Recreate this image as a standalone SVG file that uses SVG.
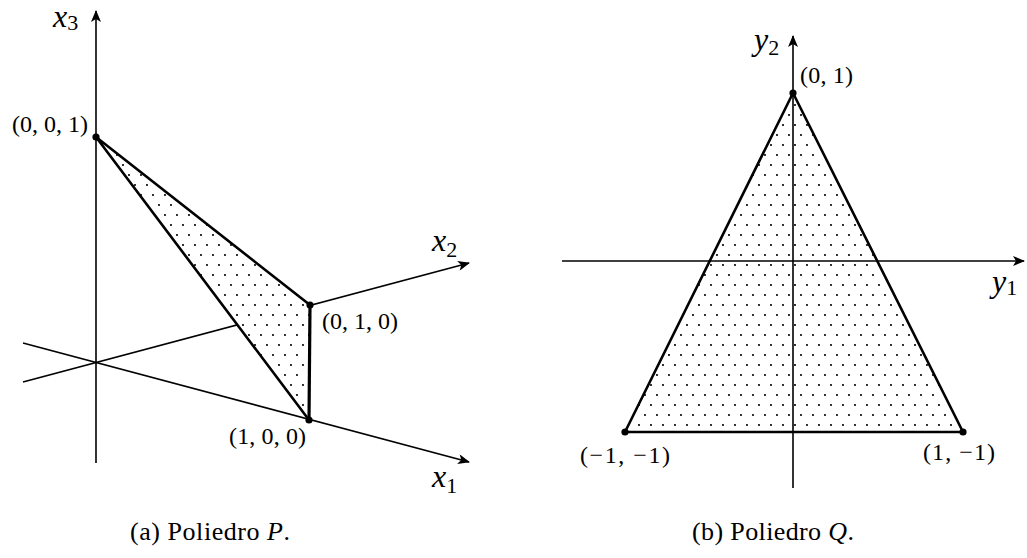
<svg xmlns="http://www.w3.org/2000/svg" width="1027" height="558" viewBox="0 0 1027 558" font-family="'Liberation Serif', 'Times New Roman', Tinos, 'DejaVu Serif', serif">
<style>
  .axis { stroke: #000; stroke-width: 1.6; fill: none; }
  .edge { stroke: #000; stroke-width: 2.6; fill: none; stroke-linejoin: round; }
  .thick { stroke: #000; stroke-width: 3.2; fill: none; }
  .pt { fill: #000; }
  text { font-family: 'Liberation Serif', 'Times New Roman', Tinos, 'DejaVu Serif', serif; fill: #000; }
  .lbl { font-size: 24px; }
  .var { font-style: italic; font-size: 32px; }
  .sub { font-style: normal; font-size: 22px; }
  .cap { font-size: 26px; }
</style>
<defs>
  <marker id="arr" viewBox="0 0 12 10" refX="11" refY="5" markerWidth="13" markerHeight="10" markerUnits="userSpaceOnUse" orient="auto">
    <path d="M0,0 L12,5 L0,10 L3,5 Z" fill="#000"/>
  </marker>
  <pattern id="dots" width="12" height="20" patternUnits="userSpaceOnUse">
    <circle cx="3" cy="5" r="1.05" fill="#000"/>
    <circle cx="9" cy="15" r="1.05" fill="#000"/>
  </pattern>
</defs>
<rect width="1027" height="558" fill="#fff"/>

<!-- Panel (a) -->
<g id="panel-a">
  <g id="connectors-a">
    <line class="axis" x1="96" y1="463" x2="96" y2="11" marker-end="url(#arr)"/>
    <line class="axis" x1="23" y1="343" x2="469" y2="462" marker-end="url(#arr)"/>
    <line class="axis" x1="23" y1="382" x2="469" y2="263" marker-end="url(#arr)"/>
  </g>
  <g id="face-P">
    <polygon points="96,137 310,305 309,420" fill="#fff"/>
    <polygon points="96,137 310,305 309,420" fill="url(#dots)"/>
    <polyline class="edge" points="309,420 96,137 310,305"/>
    <line class="thick" x1="310" y1="305" x2="309" y2="420"/>
  </g>
  <g id="v001"><circle class="pt" cx="96" cy="137" r="3.6"/><text class="lbl" x="12" y="132" textLength="76" lengthAdjust="spacing">(0, 0, 1)</text></g>
  <g id="v010"><circle class="pt" cx="310" cy="305" r="3.6"/><text class="lbl" x="322" y="329" textLength="76" lengthAdjust="spacing">(0, 1, 0)</text></g>
  <g id="v100"><circle class="pt" cx="309" cy="420" r="3.6"/><text class="lbl" x="229" y="444" textLength="77" lengthAdjust="spacing">(1, 0, 0)</text></g>
  <g id="label-x3"><text class="var" x="53" y="27">x<tspan class="sub" dy="3">3</tspan></text></g>
  <g id="label-x2"><text class="var" x="432" y="251">x<tspan class="sub" dy="6">2</tspan></text></g>
  <g id="label-x1"><text class="var" x="432" y="487">x<tspan class="sub" dy="6">1</tspan></text></g>
  <text class="cap" x="130" y="540" textLength="160" lengthAdjust="spacing">(a) Poliedro <tspan font-style="italic">P</tspan>.</text>
</g>

<!-- Panel (b) -->
<g id="panel-b">
  <g id="face-Q">
    <polygon points="793,93 625,432 963,432" fill="url(#dots)"/>
  </g>
  <g id="connectors-b">
    <line class="axis" x1="562" y1="261" x2="1024" y2="261" marker-end="url(#arr)"/>
    <line class="axis" x1="793" y1="488" x2="793" y2="36" marker-end="url(#arr)"/>
    <polygon class="edge" points="793,93 625,432 963,432"/>
  </g>
  <g id="v01"><circle class="pt" cx="793" cy="93" r="3.6"/><text class="lbl" x="800" y="83" textLength="53" lengthAdjust="spacing">(0, 1)</text></g>
  <g id="vm1m1"><circle class="pt" cx="625" cy="432" r="3.6"/><text class="lbl" x="580" y="463" textLength="90" lengthAdjust="spacing">(−1, −1)</text></g>
  <g id="v1m1"><circle class="pt" cx="963" cy="432" r="3.6"/><text class="lbl" x="923" y="460" textLength="72" lengthAdjust="spacing">(1, −1)</text></g>
  <g id="label-y2"><text class="var" x="754" y="50">y<tspan class="sub" dy="5">2</tspan></text></g>
  <g id="label-y1"><text class="var" x="992" y="292">y<tspan class="sub" dy="3">1</tspan></text></g>
  <text class="cap" x="692" y="540" textLength="162" lengthAdjust="spacing">(b) Poliedro <tspan font-style="italic">Q</tspan>.</text>
</g>
</svg>
